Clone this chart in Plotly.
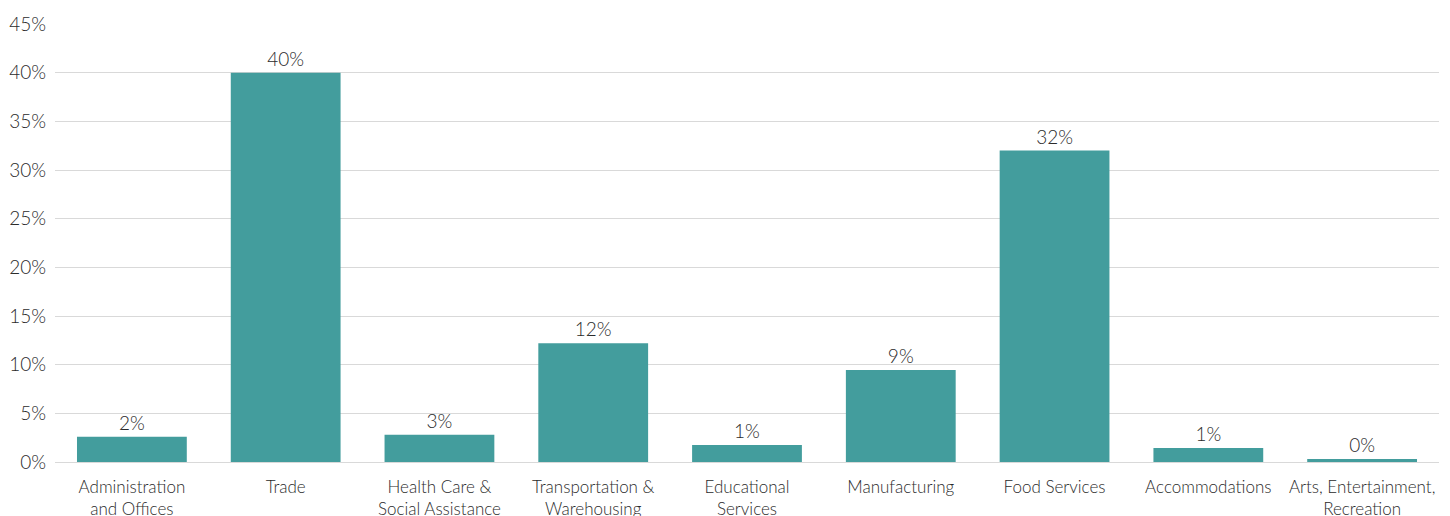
import plotly.graph_objects as go

categories = [
    "Administration<br>and Offices",
    "Trade",
    "Health Care &<br>Social Assistance",
    "Transportation &<br>Warehousing",
    "Educational<br>Services",
    "Manufacturing",
    "Food Services",
    "Accommodations",
    "Arts, Entertainment,<br>Recreation",
]
values = [2.6, 40.0, 2.8, 12.2, 1.75, 9.45, 32.0, 1.45, 0.3]
value_labels = ["2%", "40%", "3%", "12%", "1%", "9%", "32%", "1%", "0%"]
y_ticks = [0, 5, 10, 15, 20, 25, 30, 35, 40, 45]
y_tick_labels = [f"{t}%" for t in y_ticks]

FONT = "Lato"
TXT = "#2b2b2b"

fig = go.Figure(
    go.Bar(
        x=categories,
        y=values,
        text=value_labels,
        textposition="outside",
        textfont=dict(family=FONT, size=19, color=TXT, weight=300),
        marker=dict(color="#439D9D", line=dict(width=0)),
        cliponaxis=False,
    )
)

fig.update_layout(
    width=1450,
    height=516,
    margin=dict(l=47, r=19, t=16, b=62),
    paper_bgcolor="white",
    plot_bgcolor="white",
    bargap=0.286,
    showlegend=False,
    font=dict(family=FONT, color=TXT),
)
fig.update_xaxes(
    automargin=False,
    tickfont=dict(family=FONT, size=17, color=TXT, weight=300),
    ticklabelstandoff=13,
    showgrid=False,
    showline=False,
    ticks="",
)
fig.update_yaxes(
    automargin=False,
    range=[0, 45],
    tickvals=y_ticks,
    ticktext=y_tick_labels,
    tickfont=dict(family=FONT, size=19, color=TXT, weight=300),
    ticklabelstandoff=8,
    showgrid=True,
    gridcolor="#d9d9d9",
    gridwidth=1.3,
    zeroline=True,
    zerolinecolor="#d9d9d9",
    zerolinewidth=1.3,
    ticks="",
)

fig.write_html("out.html")
